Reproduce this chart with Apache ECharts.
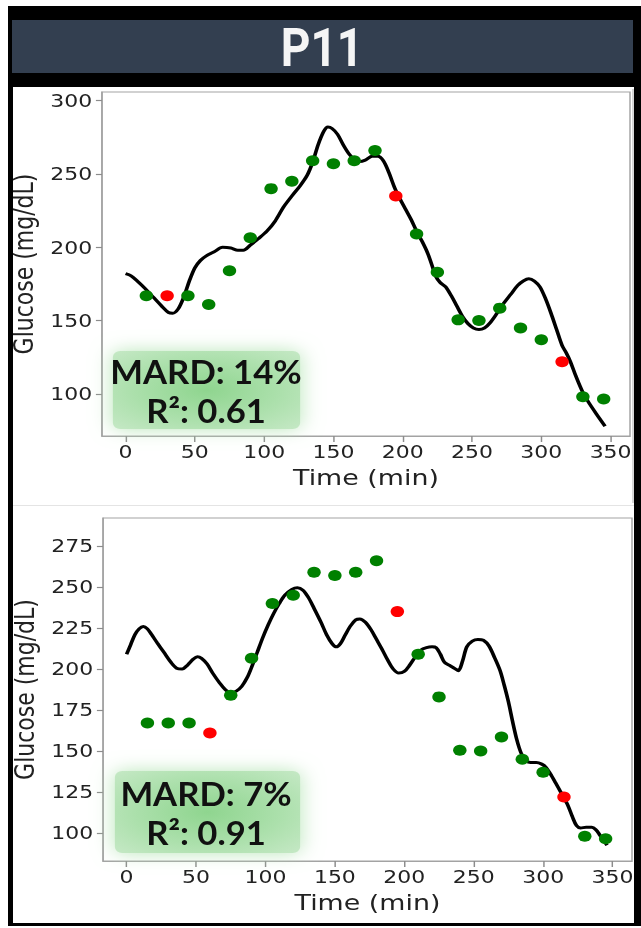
<!DOCTYPE html>
<html>
<head>
<meta charset="utf-8">
<title>P11</title>
<script src="https://cdn.jsdelivr.net/npm/echarts@6/dist/echarts.min.js"></script>
<style>
  html, body { margin: 0; padding: 0; background: #fff; overflow: hidden; }
  #wrap { width: 641px; height: 928px; overflow: hidden; }
  /* the whole figure is drawn narrower and widened, as the published panel is */
  #chart { width: 525px; height: 928px; transform: scaleX(1.22095); transform-origin: 0 0; }
</style>
</head>
<body>
<div id="wrap"><div id="chart"></div></div>
<script>
// Reference (finger-stick) glucose samples, every 15 minutes
const sampleTimes = [15, 30, 45, 60, 75, 90, 105, 120, 135, 150, 165, 180, 195, 210, 225, 240, 255, 270, 285, 300, 315, 330, 345];
const referenceGlucose = [167, 167, 167, 161, 184, 206.5, 240, 245, 259, 257, 259, 266, 235, 209, 183, 150.5, 150, 158.5, 145, 137, 122, 98, 96.5];

// Samples used for calibration in each model (drawn in red)
const topCalibrationTimes = [30, 195, 315];
const bottomCalibrationTimes = [60, 195, 315];

// Estimated glucose curves [time, mg/dL]
const topEstimate = [
  [0,182],[4,180.5],[9,176.5],[14,172],[20,166],[26,160],[31,155.5],[34,155],[38,158],[42,166],
  [46,177],[50,186],[54,191],[58,194],[64,197],[70,200],[76,199.5],[81,198],[85,198],[90,201.5],
  [96,206],[102,211],[108,218],[114,227.5],[120,235],[126,242],[131,249],[135,258],[139,270],[143,279],
  [146,282],[149,281],[153,277],[157,270],[161,264],[165,260],[169,258.5],[173,259.5],[178,262],[182,262],
  [186,259],[190,251],[194,241],[198,233],[202,226],[206,219],[210,211],[214,204],[218,196],[221,188],
  [224,180],[227,176],[231,173],[235,167],[239,160],[243,153],[247,148],[251,145],[255,144],[259,145],
  [263,148.5],[268,155],[273,162],[278,168],[283,174],[287,177],[291,178.5],[295,177],[299,173],[303,165],
  [307,155],[311,144],[315,133],[318,128],[321,122],[325,112],[330,101],[335,93],[340,86],[346,78]
];
const bottomEstimate = [
  [0,209],[3,215],[6,221],[9,224.5],[12,226],[15,224.5],[18,221],[22,216],[27,210],[32,204],
  [36,200.5],[40,200],[44,202.5],[48,206],[51,207.5],[54,206.5],[58,203],[62,197.5],[67,191.5],[71,187.5],
  [75,185.5],[79,186.5],[83,189.5],[87,195],[90,201],[94,210],[98,219],[102,227],[106,234],[110,240],
  [114,245],[119,248.5],[123,249.5],[127,248],[131,243.5],[135,237],[140,228.5],[144,221],[148,215.5],[151,213.5],
  [154,215.5],[157,220],[161,226],[165,230],[168,230.5],[172,228.5],[176,224],[180,218],[184,212],[188,205.5],
  [192,200],[196,197.5],[200,198.5],[204,202.5],[208,207.5],[212,211.5],[216,213],[220,213.5],[223,213],[226,209],
  [229,204],[233,202],[236,200.5],[239,199],[242,205],[245,213.5],[249,217],[253,218],[257,217.5],[261,214],
  [265,207],[269,199],[272,190],[275,180],[278,168],[281,157],[284,149],[287,144.5],[291,143],[295,143],[299,142],
  [302,140],[306,135],[309,130.5],[312,126],[315,121.5],[318,116.5],[321,110],[324,104.5],[327,103],[331,103.5],
  [335,103.5],[338,102],[341,98.5],[344,95],[346,92.5]
];

// Axis ticks
const timeTicks = [0, 50, 100, 150, 200, 250, 300, 350];
const topGlucoseTicks = [100, 150, 200, 250, 300];
const bottomGlucoseTicks = [100, 125, 150, 175, 200, 225, 250, 275];

// Panel texts
const panelTitle = 'P11';
const topStats = ['MARD: 14%', 'R²: 0.61'];
const bottomStats = ['MARD: 7%', 'R²: 0.91'];

const S = 1.22095; // horizontal widening applied by CSS

function pointsAt(wantCalibration, calibrationTimes) {
  const out = [];
  sampleTimes.forEach((t, i) => {
    const isCal = calibrationTimes.indexOf(t) >= 0;
    if (isCal === wantCalibration) out.push([t, referenceGlucose[i]]);
  });
  return out;
}

const GREEN = '#008000';
const RED = '#ff0000';
const SPINE = '#a3a3a3';
const TEXT = '#222';

function xAxisFor(gridIndex) {
  return {
    gridIndex, type: 'value', min: -17, max: 364,
    name: 'Time (min)', nameLocation: 'middle', nameGap: 30,
    nameTextStyle: { fontFamily: 'DejaVu Sans', fontSize: 22, color: TEXT },
    axisLine: { show: true, onZero: false, lineStyle: { color: SPINE, width: 1.2 } },
    axisTick: { show: true, customValues: timeTicks, length: 6, lineStyle: { color: '#8c8c8c', width: 1.2 } },
    axisLabel: { customValues: timeTicks, fontFamily: 'DejaVu Sans', fontSize: 18, color: TEXT, margin: 7 },
    splitLine: { show: false }
  };
}
function yAxisFor(gridIndex, min, max, ticks) {
  return {
    gridIndex, type: 'value', min, max,
    name: 'Glucose (mg/dL)', nameLocation: 'middle', nameGap: 48,
    nameTextStyle: { fontFamily: 'DejaVu Sans', fontSize: 22, color: TEXT },
    axisLine: { show: true, onZero: false, lineStyle: { color: SPINE, width: 1.2 } },
    axisTick: { show: true, customValues: ticks, length: 5, lineStyle: { color: '#8c8c8c', width: 1.2 } },
    axisLabel: { customValues: ticks, fontFamily: 'DejaVu Sans', fontSize: 18, color: TEXT, margin: 8 },
    splitLine: { show: false }
  };
}
function curveSeries(idx, data) {
  return {
    type: 'line', xAxisIndex: idx, yAxisIndex: idx, data,
    smooth: 0.3, showSymbol: false, symbol: 'none', silent: true, z: 3,
    lineStyle: { color: '#000', width: 3 }
  };
}
function dotSeries(idx, data, color) {
  return {
    type: 'scatter', xAxisIndex: idx, yAxisIndex: idx, data,
    symbol: 'circle', symbolSize: 11, silent: true, z: 4,
    itemStyle: { color, opacity: 1 }
  };
}
function badge(x, y, w, h, lines, cx, y1, y2) {
  const textStyle = { x: 0, y: 0, textAlign: 'center', textVerticalAlign: 'middle',
                      fontFamily: 'Lato', fontWeight: 'bold', fontSize: 33, fill: '#111' };
  return [
    {
      type: 'rect', z: 20,
      shape: { x: x / S + 4, y: y + 4, width: w / S - 8, height: h - 8, r: 6 },
      style: {
        fill: new echarts.graphic.RadialGradient(0.5, 0.5, 0.8, [
          { offset: 0, color: '#8fd58f' },
          { offset: 0.5, color: '#ace0ac' },
          { offset: 1, color: '#cdebcd' }
        ]),
        shadowBlur: 18, shadowColor: 'rgba(185,230,185,1)'
      }
    },
    { type: 'text', z: 21, x: cx / S, y: y1, scaleX: 0.86, style: Object.assign({ text: lines[0] }, textStyle) },
    { type: 'text', z: 21, x: cx / S, y: y2, scaleX: 0.86, style: Object.assign({ text: lines[1] }, textStyle) }
  ];
}

const chart = echarts.init(document.getElementById('chart'), null, { renderer: 'svg' });

const graphics = [
  // dark frame
  { type: 'rect', z: -10, shape: { x: 8 / S, y: 6, width: 525 - 8 / S, height: 920 }, style: { fill: '#000' } },
  // title band
  { type: 'rect', z: -9, shape: { x: 12 / S, y: 20, width: 621 / S, height: 53 }, style: { fill: '#333f50' } },
  {
    type: 'text', z: -8, x: 322 / S, y: 47, scaleX: 0.7,
    style: { text: panelTitle, x: 0, y: 0, textAlign: 'center', textVerticalAlign: 'middle',
             fontFamily: 'Roboto', fontWeight: 'bold', fontSize: 54, fill: '#f5f5f5' }
  },
  // white panels
  { type: 'rect', z: -9, shape: { x: 13 / S, y: 87, width: 621 / S, height: 836 }, style: { fill: '#fff' } },
  { type: 'line', z: -8, shape: { x1: 13 / S, y1: 505.5, x2: 634 / S, y2: 505.5 }, style: { stroke: '#e4e4e4', lineWidth: 1 } },
  { type: 'line', z: -8, shape: { x1: 633 / S, y1: 89, x2: 633 / S, y2: 503 }, style: { stroke: '#bdbdbd', lineWidth: 1 } },
  ...badge(108, 347, 197, 86, topStats, 206, 371, 410),
  ...badge(110, 767, 195, 90, bottomStats, 206, 793, 832)
];

chart.setOption({
  animation: false,
  backgroundColor: '#fff',
  graphic: graphics,
  grid: [
    { left: 102 / S, top: 92, width: 528 / S, height: 344, show: true, borderColor: SPINE, borderWidth: 1.2, backgroundColor: 'transparent' },
    { left: 103 / S, top: 518, width: 529 / S, height: 343, show: true, borderColor: SPINE, borderWidth: 1.2, backgroundColor: 'transparent' }
  ],
  xAxis: [xAxisFor(0), xAxisFor(1)],
  yAxis: [
    yAxisFor(0, 71.3, 305.9, topGlucoseTicks),
    yAxisFor(1, 82.9, 292.1, bottomGlucoseTicks)
  ],
  series: [
    curveSeries(0, topEstimate),
    dotSeries(0, pointsAt(false, topCalibrationTimes), GREEN),
    dotSeries(0, pointsAt(true, topCalibrationTimes), RED),
    curveSeries(1, bottomEstimate),
    dotSeries(1, pointsAt(false, bottomCalibrationTimes), GREEN),
    dotSeries(1, pointsAt(true, bottomCalibrationTimes), RED)
  ]
});
</script>
</body>
</html>
